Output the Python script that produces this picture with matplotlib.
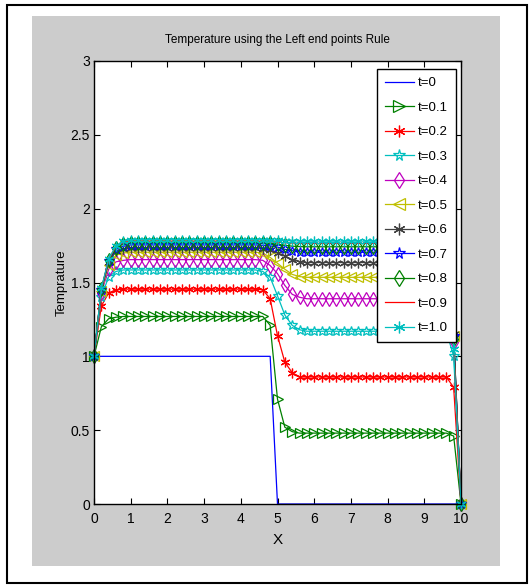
import numpy as np
import matplotlib
matplotlib.use("Agg")
import matplotlib.pyplot as plt
from matplotlib.patches import Rectangle

plt.rcParams['font.family'] = ['Liberation Sans Narrow', 'Liberation Sans', 'DejaVu Sans']

x = np.linspace(0, 10, 51)

labels = ["t=0", "t=0.1", "t=0.2", "t=0.3", "t=0.4", "t=0.5",
          "t=0.6", "t=0.7", "t=0.8", "t=0.9", "t=1.0"]

t00 = [1, 1, 1, 1, 1, 1, 1, 1, 1, 1,
       1, 1, 1, 1, 1, 1, 1, 1, 1, 1,
       1, 1, 1, 1, 1, 0, 0, 0, 0, 0,
       0, 0, 0, 0, 0, 0, 0, 0, 0, 0,
       0, 0, 0, 0, 0, 0, 0, 0, 0, 0,
       0]
t01 = [1.00, 1.20, 1.255, 1.265, 1.27, 1.27, 1.27, 1.27, 1.27, 1.27,
       1.27, 1.27, 1.27, 1.27, 1.27, 1.27, 1.27, 1.27, 1.27, 1.27,
       1.27, 1.27, 1.27, 1.27, 1.21, 0.71, 0.52, 0.49, 0.48, 0.48,
       0.48, 0.48, 0.48, 0.48, 0.48, 0.48, 0.48, 0.48, 0.48, 0.48,
       0.48, 0.48, 0.48, 0.48, 0.48, 0.48, 0.48, 0.48, 0.48, 0.46,
       0.0]
t02 = [1.00, 1.34, 1.43, 1.45, 1.455, 1.455, 1.455, 1.455, 1.455, 1.455,
       1.455, 1.455, 1.455, 1.455, 1.455, 1.455, 1.455, 1.455, 1.455, 1.455,
       1.455, 1.455, 1.455, 1.45, 1.39, 1.14, 0.96, 0.89, 0.86, 0.86,
       0.86, 0.86, 0.86, 0.86, 0.86, 0.86, 0.86, 0.86, 0.86, 0.86,
       0.86, 0.86, 0.86, 0.86, 0.86, 0.86, 0.86, 0.86, 0.86, 0.79,
       0.0]
t03 = [1.00, 1.40, 1.54, 1.575, 1.585, 1.585, 1.585, 1.585, 1.585, 1.585,
       1.585, 1.585, 1.585, 1.585, 1.585, 1.585, 1.585, 1.585, 1.585, 1.585,
       1.585, 1.585, 1.585, 1.575, 1.535, 1.41, 1.28, 1.21, 1.18, 1.17,
       1.17, 1.17, 1.17, 1.17, 1.17, 1.17, 1.17, 1.17, 1.17, 1.17,
       1.17, 1.17, 1.17, 1.17, 1.17, 1.17, 1.17, 1.17, 1.17, 1.00,
       0.0]
t04 = [1.00, 1.43, 1.59, 1.64, 1.65, 1.655, 1.655, 1.655, 1.655, 1.655,
       1.655, 1.655, 1.655, 1.655, 1.655, 1.655, 1.655, 1.655, 1.655, 1.655,
       1.655, 1.655, 1.655, 1.65, 1.615, 1.56, 1.48, 1.42, 1.40, 1.39,
       1.39, 1.39, 1.39, 1.39, 1.39, 1.39, 1.39, 1.39, 1.39, 1.39,
       1.39, 1.39, 1.39, 1.39, 1.39, 1.39, 1.39, 1.39, 1.39, 1.10,
       0.0]
t05 = [1.00, 1.44, 1.62, 1.685, 1.70, 1.705, 1.705, 1.705, 1.705, 1.705,
       1.705, 1.705, 1.705, 1.705, 1.705, 1.705, 1.705, 1.705, 1.705, 1.705,
       1.705, 1.705, 1.705, 1.70, 1.67, 1.63, 1.59, 1.555, 1.54, 1.535,
       1.535, 1.535, 1.535, 1.535, 1.535, 1.535, 1.535, 1.535, 1.535, 1.535,
       1.535, 1.535, 1.535, 1.535, 1.535, 1.535, 1.535, 1.535, 1.535, 1.14,
       0.0]
t06 = [1.00, 1.45, 1.64, 1.71, 1.725, 1.735, 1.735, 1.735, 1.735, 1.735,
       1.735, 1.735, 1.735, 1.735, 1.735, 1.735, 1.735, 1.735, 1.735, 1.735,
       1.735, 1.735, 1.735, 1.73, 1.72, 1.70, 1.68, 1.655, 1.64, 1.635,
       1.635, 1.635, 1.635, 1.635, 1.635, 1.635, 1.635, 1.635, 1.635, 1.635,
       1.635, 1.635, 1.635, 1.635, 1.635, 1.635, 1.635, 1.635, 1.635, 1.15,
       0.0]
t07 = [1.00, 1.45, 1.645, 1.725, 1.745, 1.755, 1.755, 1.755, 1.755, 1.755,
       1.755, 1.755, 1.755, 1.755, 1.755, 1.755, 1.755, 1.755, 1.755, 1.755,
       1.755, 1.755, 1.755, 1.752, 1.748, 1.74, 1.725, 1.715, 1.708, 1.705,
       1.705, 1.705, 1.705, 1.705, 1.705, 1.705, 1.705, 1.705, 1.705, 1.705,
       1.705, 1.705, 1.705, 1.705, 1.705, 1.705, 1.705, 1.705, 1.705, 1.14,
       0.0]
t08 = [1.00, 1.455, 1.65, 1.735, 1.76, 1.77, 1.77, 1.77, 1.77, 1.77,
       1.77, 1.77, 1.77, 1.77, 1.77, 1.77, 1.77, 1.77, 1.77, 1.77,
       1.77, 1.77, 1.77, 1.768, 1.765, 1.76, 1.752, 1.746, 1.743, 1.742,
       1.742, 1.742, 1.742, 1.742, 1.742, 1.742, 1.742, 1.742, 1.742, 1.742,
       1.742, 1.742, 1.742, 1.742, 1.742, 1.742, 1.742, 1.742, 1.742, 1.12,
       0.0]
t09 = [1.00, 1.455, 1.655, 1.745, 1.77, 1.78, 1.78, 1.78, 1.78, 1.78,
       1.78, 1.78, 1.78, 1.78, 1.78, 1.78, 1.78, 1.78, 1.78, 1.78,
       1.78, 1.78, 1.78, 1.779, 1.777, 1.773, 1.769, 1.767, 1.766, 1.765,
       1.765, 1.765, 1.765, 1.765, 1.765, 1.765, 1.765, 1.765, 1.765, 1.765,
       1.765, 1.765, 1.765, 1.765, 1.765, 1.765, 1.765, 1.765, 1.765, 1.09,
       0.0]
t10 = [1.00, 1.46, 1.66, 1.75, 1.78, 1.79, 1.79, 1.79, 1.79, 1.79,
       1.79, 1.79, 1.79, 1.79, 1.79, 1.79, 1.79, 1.79, 1.79, 1.79,
       1.79, 1.79, 1.79, 1.789, 1.788, 1.786, 1.784, 1.782, 1.781, 1.78,
       1.78, 1.78, 1.78, 1.78, 1.78, 1.78, 1.78, 1.78, 1.78, 1.78,
       1.78, 1.78, 1.78, 1.78, 1.78, 1.78, 1.78, 1.78, 1.78, 1.05,
       0.0]

series = [t00, t01, t02, t03, t04, t05, t06, t07, t08, t09, t10]

xticks = [0, 1, 2, 3, 4, 5, 6, 7, 8, 9, 10]
yticks = [0, 0.5, 1, 1.5, 2, 2.5, 3]
ytick_labels = ["0", "0.5", "1", "1.5", "2", "2.5", "3"]

blue = (0, 0, 1)
green = (0, 0.5, 0)
red = (1, 0, 0)
cyan = (0, 0.75, 0.75)
mag = (0.75, 0, 0.75)
yel = (0.75, 0.75, 0)
gray = (0.25, 0.25, 0.25)
aster = (6, 2, 0)
styles = [
    dict(color=blue, marker=None),
    dict(color=green, marker='>'),
    dict(color=red, marker=aster),
    dict(color=cyan, marker='*'),
    dict(color=mag, marker='d'),
    dict(color=yel, marker='<'),
    dict(color=gray, marker=aster),
    dict(color=blue, marker='*'),
    dict(color=green, marker='d'),
    dict(color=red, marker=None),
    dict(color=cyan, marker=aster),
]

W, H = 530, 588
fig = plt.figure(figsize=(W / 100, H / 100), dpi=100)
fig.patch.set_facecolor('white')

# background axes holding the outer black frame and grey figure area
bg = fig.add_axes([0, 0, 1, 1], zorder=-10)
bg.set_xlim(0, W)
bg.set_ylim(H, 0)
bg.axis('off')
bg.add_patch(Rectangle((7, 5), 520, 578, facecolor='white', edgecolor='black', linewidth=1.5))
bg.add_patch(Rectangle((32, 16), 468, 550, facecolor='#cccccc', edgecolor='none'))

ax = fig.add_axes([94 / W, 84 / H, 367 / W, 443 / H], zorder=1)
ax.set_facecolor('white')

for lab, vals, st in zip(labels, series, styles):
    ax.plot(x, vals, color=st['color'], marker=st['marker'], markersize=7,
            markerfacecolor='none', markeredgecolor=st['color'], markeredgewidth=0.9,
            linewidth=0.9, label=lab, clip_on=False)

ax.set_xlim(0, 10)
ax.set_ylim(0, 3)
ax.set_xticks(xticks)
ax.set_yticks(yticks)
ax.set_yticklabels(ytick_labels)
ax.tick_params(direction='in', top=True, right=True, length=4, width=0.8,
               labelsize=10, colors='black')
ax.tick_params(axis='x', pad=6)
ax.tick_params(axis='y', pad=3)
for s in ax.spines.values():
    s.set_linewidth(1.0)
    s.set_color('black')

ax.set_title("Temperature using the Left end points Rule", fontsize=8.5, pad=13)
ax.set_xlabel("X", fontsize=11, labelpad=5)
ax.set_ylabel("Temprature", fontsize=9.5, labelpad=2)

leg = ax.legend(loc='upper right', bbox_to_anchor=(0.986, 0.982), borderaxespad=0,
                fontsize=9.5, frameon=True, fancybox=False, edgecolor='black',
                labelspacing=0.93, handlelength=2.2, handletextpad=0.3,
                borderpad=0.6, markerscale=1.2)
leg.get_frame().set_linewidth(1.0)
leg.get_frame().set_alpha(1)

fig.savefig("out.png", dpi=100, facecolor=fig.get_facecolor())
